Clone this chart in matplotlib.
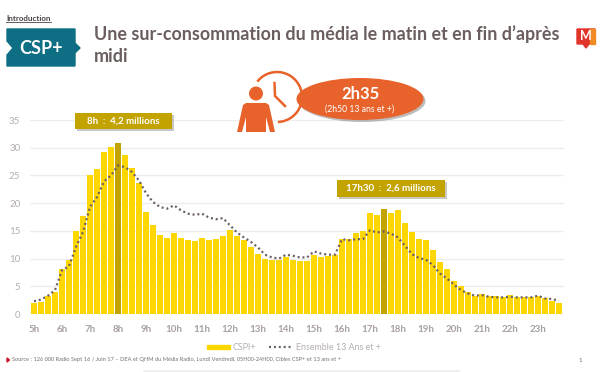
import matplotlib
matplotlib.use("Agg")
import matplotlib.pyplot as plt
from matplotlib.patches import Polygon, Ellipse, Circle, Arc, Rectangle
from matplotlib.lines import Line2D
from matplotlib.patches import Patch

plt.rcParams['font.family'] = ['Lato', 'DejaVu Sans']

hours = ["5h","6h","7h","8h","9h","10h","11h","12h","13h","14h","15h","16h","17h","18h","19h","20h","21h","22h","23h"]
y_ticks = [0,5,10,15,20,25,30,35]
csp = [2.0,2.2,3.3,4.0,8.2,9.7,15.0,17.7,25.1,26.1,29.3,30.1,30.9,28.6,26.3,23.6,18.4,16.0,14.2,13.7,
       14.7,13.7,13.4,13.2,13.75,13.3,13.5,14.05,15.1,14.1,13.3,12.1,10.9,10.0,9.7,9.7,10.3,9.8,9.6,9.6,
       10.7,10.2,10.4,10.6,13.6,13.5,14.7,15.0,18.2,17.8,18.9,18.2,18.8,16.5,14.8,13.6,13.3,11.6,9.4,8.2,
       6.0,5.0,4.0,3.3,3.6,3.3,3.3,3.1,3.4,3.0,3.0,3.0,3.3,2.8,2.4,2.0]
ensemble = [2.3,2.6,3.3,4.3,7.9,8.6,12.1,14.8,19.3,21.1,23.9,25.0,26.8,26.5,25.6,24.1,21.8,20.2,19.3,19.0,
            19.6,18.7,18.1,17.9,18.1,17.4,17.1,17.3,16.0,14.7,13.8,13.0,12.0,10.7,10.2,10.0,10.7,10.5,10.2,10.2,
            11.3,10.9,10.7,10.7,13.5,13.3,13.5,13.5,15.1,14.7,14.9,14.5,13.8,12.3,10.8,10.1,9.8,8.8,7.3,6.4,
            5.3,4.3,3.7,3.3,3.4,3.1,3.0,3.0,3.1,3.0,3.0,3.0,3.3,2.8,2.7,2.4]
highlight = [12, 50]

W, H = 600, 372
YEL, DARK, GREY, ORANGE, TEAL = "#FFD700", "#C2A300", "#B5AEAE", "#E8632B", "#0E6E84"

fig = plt.figure(figsize=(6, 3.72), dpi=100, facecolor="white")

x0, x1, ytop, ybot = 30, 564, 120, 314
ax = fig.add_axes([x0/W, 1-ybot/H, (x1-x0)/W, (ybot-ytop)/H])
ax.set_xlim((30-34)/7, (564-34)/7)
ax.set_ylim(0, 35)
xs = list(range(len(csp)))
colors = [DARK if i in highlight else YEL for i in xs]
ax.bar(xs, csp, width=0.8, color=colors, zorder=2)
ax.plot(xs, ensemble, color="#6B5E62", lw=1.6, ls=(0, (0.9, 1.3)), zorder=3)
ax.set_xticks(xs[::4], hours)
ax.set_yticks(y_ticks)
ax.grid(axis="y", color="#EDEDED", lw=1, zorder=0)
ax.set_axisbelow(True)
for s in ax.spines.values():
    s.set_visible(False)
ax.tick_params(length=0)
ax.tick_params(axis="x", pad=8, labelcolor="#A8A0A0", labelsize=7)
ax.tick_params(axis="y", pad=7, labelcolor=GREY, labelsize=7)
for t in ax.get_xticklabels():
    t.set_fontweight("bold")

leg = fig.legend(handles=[Patch(color=YEL, label="CSPI+"),
                          Line2D([], [], color="#6B5E62", lw=1.6, ls=(0, (0.9, 1.3)), label="Ensemble 13 Ans et +")],
                 ncols=2, frameon=False, loc="center", bbox_to_anchor=(293.5/W, 1-347.5/H),
                 fontsize=6.4, labelcolor=GREY, handlelength=2.6, handleheight=0.4,
                 columnspacing=1.45, handletextpad=0.35)

ov = fig.add_axes([0, 0, 1, 1], zorder=5)
ov.set_xlim(0, W); ov.set_ylim(H, 0); ov.axis("off")

ov.text(6, 18.5, "Introduction", fontsize=5.8, fontweight="bold", color="#4A4044", va="center")
ov.plot([6, 51], [22, 22], color="#4A4044", lw=0.6)

ov.add_patch(Polygon([(7,29),(75,29),(75,43),(80,48),(75,53),(75,66),(7,66),(7,55),(13,48),(7,41)], color=TEAL))
ov.text(41, 48, "CSP+", color="white", fontsize=13, fontweight="bold", ha="center", va="center")

ov.text(94, 34.5, "Une sur-consommation du média le matin et en fin d\u2019après", fontsize=12.9,
        fontweight="bold", color="#6B5E5E", va="center")
ov.text(94, 56, "midi", fontsize=12.9, fontweight="bold", color="#6B5E5E", va="center")

ov.add_patch(Polygon([(577,29),(595,29),(595,44),(589,44),(586,48),(583,44),(577,44)], color="#E0342B"))
ov.add_patch(Polygon([(590,29),(595,29),(595,44),(590,44)], color="#F08A24"))
ov.text(586, 36.5, "M", color="white", fontsize=9, fontweight="bold", ha="center", va="center")

def callout(x, y, w, h, txt):
    ov.add_patch(Rectangle((x+2, y+2), w, h, color="#999999", alpha=0.55, lw=0))
    ov.add_patch(Rectangle((x, y), w, h, color=DARK, lw=0))
    ov.text(x+w/2, y+h/2, txt, color="white", fontsize=7, fontweight="bold", ha="center", va="center")
callout(75, 113, 97, 16, "8h  :  4,2 millions")
callout(337, 180, 108, 17, "17h30  :  2,6 millions")

ov.add_patch(Arc((277, 97), 50, 50, theta1=-142, theta2=88, color=ORANGE, lw=1.8))
ov.plot([274.5, 275, 285], [83, 96, 106], color=ORANGE, lw=1.8, solid_joinstyle="miter")
ov.add_patch(Circle((256, 93.5), 9, color="white", lw=0, zorder=3))
ov.add_patch(Circle((256, 93.5), 7, color=ORANGE, lw=0, zorder=4))
ov.add_patch(Polygon([(246,103),(266,103),(269,105),(275,132),(270,132),(266,117),(266,132),(246,132),(246,117),(242,132),(237,132),(243,105)],
                     color=ORANGE, lw=0, zorder=4))

ov.add_patch(Ellipse((362, 101), 127, 42, color="#888888", alpha=0.55, lw=0))
ov.add_patch(Ellipse((360, 99), 127, 42, color=ORANGE, lw=0))
ov.text(360, 94, "2h35", color="white", fontsize=12, fontweight="bold", ha="center", va="center")
ov.text(360, 109, "(2h50 13 ans et +)", color="white", fontsize=6.2, ha="center", va="center")

ov.add_patch(Polygon([(7,358),(9.5,360),(7,362)], color="#C8102E"))
ov.text(12.5, 360, "Source : 126 000 Radio Sept 16 / Juin 17 \u2013 DEA et QHM du Média Radio, Lundi Vendredi, 05H00-24H00, Cibles CSP+ et 13 ans et +",
        fontsize=4.1, color="#777070", va="center")
ov.text(578, 360, "1", fontsize=4.5, color="#777070", va="center")
ov.add_patch(Rectangle((143, 370), 317, 2, color="#F0F0F0", lw=0))

fig.savefig("out.png", dpi=100)
